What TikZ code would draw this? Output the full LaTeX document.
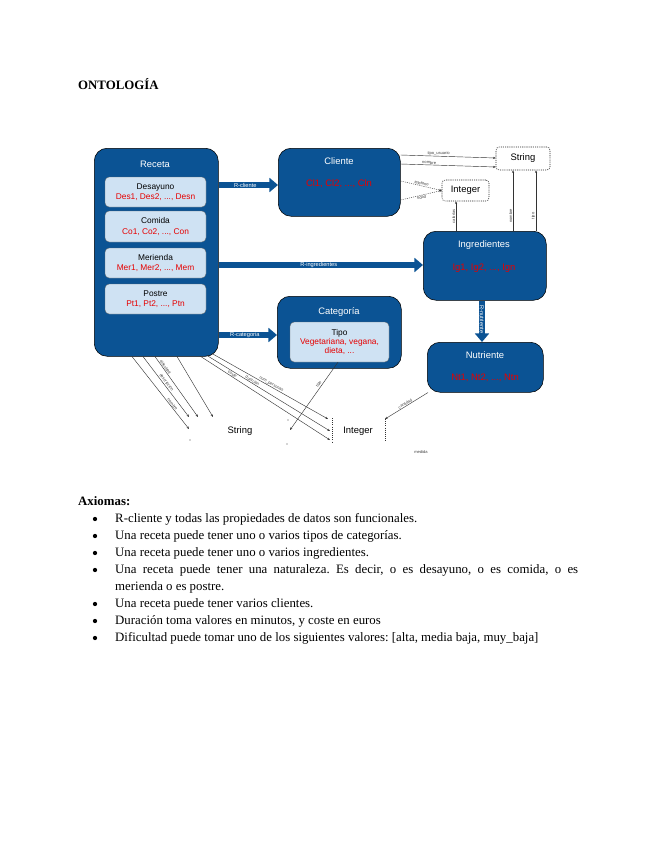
\documentclass[tikz,border=0pt]{standalone}
\usepackage{fontspec}
\setmainfont{Liberation Serif}
\newfontfamily\arialf{Liberation Sans}
\usetikzlibrary{arrows.meta}
\definecolor{dblue}{RGB}{11,83,148}
\definecolor{lblue}{RGB}{207,226,243}
\definecolor{rtext}{RGB}{230,0,0}
\newcommand\pxu{0.9346pt}
\frenchspacing
\begin{document}
\begin{tikzpicture}[x=0.9346pt,y=-0.9346pt,
  bigbox/.style={draw=black, line width=0.5pt, fill=dblue, rounded corners=12pt, anchor=north west, inner sep=0pt},
  inbox/.style={draw=black!60, line width=0.3pt, fill=lblue, rounded corners=4pt, inner sep=0pt, align=center, font=\arialf\fontsize{7.8}{9.6}\selectfont},
  btitle/.style={text=white, font=\arialf\fontsize{8.8}{10}\selectfont},
  redt/.style={text=rtext, font=\arialf\fontsize{8.8}{10}\selectfont},
  fatarrow/.style={draw=dblue, line width=5.2pt, -{Triangle[length=8pt,width=13pt]}},
  tlabel/.style={font=\arialf\fontsize{5.3}{6}\selectfont, text=white, inner sep=0pt},
  slabel/.style={font=\arialf\fontsize{3.8}{4}\selectfont, text=black!75, sloped, above, inner sep=0.6pt},
  thinarr/.style={draw=black!80, line width=0.4pt, -{Stealth[length=2.5pt,width=2pt]}},
  dashbox/.style={draw=black!85, line width=0.5pt, dash pattern=on 1pt off 1pt, rounded corners=3pt, inner sep=0pt, font=\arialf\fontsize{8.8}{10}\selectfont},
  plaintxt/.style={font=\arialf\fontsize{8.8}{10}\selectfont},
  bodytxt/.style={anchor=west, inner sep=0pt, font=\fontsize{12}{14}\selectfont},
  bul/.style={fill=black, circle, inner sep=0pt, minimum size=4pt}
]
\useasboundingbox (0,0) rectangle (655,848);
\fill[white] (0,0) rectangle (655,848);

\node[anchor=west, inner sep=0pt, font=\bfseries\fontsize{12}{14}\selectfont] (title) at (78,84) {ONTOLOGÍA};

% big boxes
\node[bigbox, minimum width=124*\pxu, minimum height=208*\pxu] (receta) at (94,148) {};
\node[btitle] (recetat) at (155,164) {Receta};
\node[inbox, minimum width=101*\pxu, minimum height=30*\pxu] (des) at (155.5,192) {Desayuno\\\textcolor{rtext}{Des1, Des2, ..., Desn}};
\node[inbox, minimum width=101*\pxu, minimum height=31*\pxu] (com) at (155.5,226.5) {Comida\\\textcolor{rtext}{Co1, Co2, ..., Con}};
\node[inbox, minimum width=101*\pxu, minimum height=30*\pxu] (mer) at (155.5,263) {Merienda\\\textcolor{rtext}{Mer1, Mer2, ..., Mem}};
\node[inbox, minimum width=101*\pxu, minimum height=30*\pxu] (pos) at (155.5,299) {Postre\\\textcolor{rtext}{Pt1, Pt2, ..., Ptn}};

\node[bigbox, minimum width=122*\pxu, minimum height=68*\pxu] (cliente) at (278,148) {};
\node[btitle] (clientet) at (339,161) {Cliente};
\node[redt] (clienter) at (339,184) {Cl1, Cl2, ..., Cln};

\node[bigbox, minimum width=123*\pxu, minimum height=69*\pxu] (ingr) at (423,231) {};
\node[btitle] (ingrt) at (484,245) {Ingredientes};
\node[redt] (ingrr) at (484,268) {Ig1, Ig2, ..., Ign};

\node[bigbox, minimum width=124*\pxu, minimum height=72*\pxu] (cat) at (277,296) {};
\node[btitle] (catt) at (339,312) {Categoría};
\node[inbox, minimum width=99*\pxu, minimum height=40*\pxu, font=\arialf\fontsize{7.8}{8.8}\selectfont] (tipo) at (339.5,342) {Tipo\\\textcolor{rtext}{Vegetariana, vegana,}\\\textcolor{rtext}{dieta, ...}};

\node[bigbox, minimum width=116*\pxu, minimum height=50*\pxu] (nutr) at (427,342) {};
\node[btitle] (nutrt) at (485,355) {Nutriente};
\node[redt] (nutrr) at (485,378) {Nt1, Nt2, ..., Ntn};

% datatype boxes
\node[dashbox, minimum width=54*\pxu, minimum height=23*\pxu] (str1) at (523,158.5) {String};
\node[dashbox, minimum width=47*\pxu, minimum height=21*\pxu] (int1) at (465.5,190.5) {Integer};

% thick object properties
\draw[fatarrow] (receta.east |- 0,185) -- (cliente.west |- 0,185) node[tlabel, pos=0.45] (lrc) {R-cliente};
\draw[fatarrow] (receta.east |- 0,265) -- (ingr.west |- 0,265) node[tlabel, pos=0.49] (lri) {R-ingredientes};
\draw[fatarrow] (receta.east |- 0,335) -- (cat.west |- 0,335) node[tlabel, pos=0.45] (lrca) {R-categoria};
\draw[fatarrow] (482,0 |- ingr.south) -- (482,0 |- nutr.north) node[tlabel, pos=0.45, sloped] (lrn) {R-nutriente};

% Cliente data properties
\draw[thinarr] (cliente.east |- 0,155) -- (str1.west |- 0,158) node[slabel, pos=0.4] {tipo\_usuario};
\draw[thinarr] (cliente.east |- 0,164) -- (str1.west |- 0,167) node[slabel, pos=0.3] {nombre};
\draw[thinarr, dash pattern=on 1pt off 1pt] (cliente.east |- 0,181) -- (int1.west) node[slabel, midway] {telefono};
\draw[thinarr, dash pattern=on 1pt off 1pt] (cliente.east |- 0,200) -- (int1.west) node[slabel, midway, below] {edad};

% Ingredientes data properties
\draw[thinarr] (456,0 |- ingr.north) -- (456,0 |- int1.south) node[slabel, midway] {calorías};
\draw[thinarr] (513,0 |- ingr.north) -- (513,0 |- str1.south) node[slabel, pos=0.25] {nombre};
\draw[thinarr] (536,0 |- ingr.north) -- (536,0 |- str1.south) node[slabel, pos=0.25] {tipo};

% Receta data properties to String
\coordinate (s1) at (189,429);
\coordinate (s2) at (189,417);
\coordinate (s3) at (198,417);
\coordinate (s4) at (213,417);
\draw[thinarr] (132,0 |- receta.south) -- (s1) node[slabel, pos=0.68] {nombre};
\draw[thinarr] (143,0 |- receta.south) -- (s2) node[slabel, pos=0.46] {descripcion};
\draw[thinarr] (155,0 |- receta.south) -- (s3) node[slabel, pos=0.2] {dificultad};
\draw[thinarr] (177,0 |- receta.south) -- (s4);

% Receta data properties to Integer
\coordinate (i1) at (328,419);
\coordinate (i2) at (330,431);
\coordinate (i3) at (330,440);
\coordinate (r1) at (212,353.5);
\coordinate (r2) at (207,355.5);
\coordinate (r3) at (200,356);
\draw[thinarr] (r1) -- (i1) node[slabel, pos=0.5] {num\_personas};
\draw[thinarr] (r2) -- (i2) node[slabel, pos=0.36] {duracion};
\draw[thinarr] (r3) -- (i3) node[slabel, pos=0.24] {coste};

% Categoria tipo
\coordinate (t1) at (290,430);
\draw[thinarr] (338,0 |- tipo.south) -- (t1) node[slabel, pos=0.35] {tipo};

% Nutriente cantidad
\coordinate (n1) at (385,419);
\draw[thinarr] (428,0 |- nutr.south) -- (n1) node[slabel, midway] {cantidad};
\coordinate (n2) at (385,442);
\draw[black!80, line width=0.5pt, dash pattern=on 1pt off 1pt] (n1) -- (n2);
\coordinate (m1) at (332,418);
\coordinate (m2) at (332,442);
\draw[black!80, line width=0.5pt, dash pattern=on 1pt off 1pt] (m1) -- (m2);

\node[plaintxt] (strb) at (240,431) {String};
\node[plaintxt] (intb) at (358,431) {Integer};
\node[font=\arialf\fontsize{3.8}{4}\selectfont, text=black!75] (medida) at (421,452) {medida};
\fill[black!70] (190,440) circle (0.6);
\fill[black!70] (288,420) circle (0.6);
\fill[black!70] (287,444) circle (0.6);

% Axiomas
\node[anchor=west, inner sep=0pt, font=\bfseries\fontsize{12}{14}\selectfont] (axt) at (78,501) {Axiomas:};
\foreach \yy/\txt [count=\k] in {
  519/{R-cliente y todas las propiedades de datos son funcionales.},
  536/{Una receta puede tener uno o varios tipos de categorías.},
  553/{Una receta puede tener uno o varios ingredientes.},
  604/{Una receta puede tener varios clientes.},
  621/{Duración toma valores en minutos, y coste en euros},
  638/{Dificultad puede tomar uno de los siguientes valores: [alta, media baja, muy\_baja]}} {
  \node[bul] (b\k) at (95,\yy) {};
  \node[bodytxt] (ax\k) at (115,\yy) {\txt};
}
\node[bul] (b7) at (95,570) {};
\node[bodytxt] (ax7) at (115,570) {\makebox[432.7pt][s]{Una receta puede tener una naturaleza. Es decir, o es desayuno, o es comida, o es}};
\node[bodytxt] (ax8) at (115,587) {merienda o es postre.};
\end{tikzpicture}
\end{document}
